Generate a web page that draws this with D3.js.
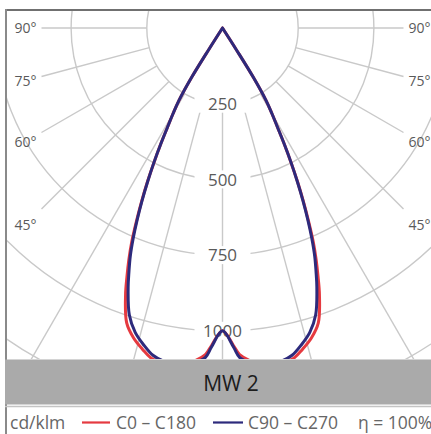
<!DOCTYPE html>
<html>
<head>
<meta charset="utf-8">
<script src="https://cdn.jsdelivr.net/npm/d3@7"></script>
<style>
  html, body { margin: 0; padding: 0; background: #fff; }
  svg { display: block; }
  text { font-family: "Open Sans", "DejaVu Sans", sans-serif; }
</style>
</head>
<body>
<svg id="chart" width="431" height="434"></svg>
<script>
// ---- data ----
const angles = [0, 2, 3, 5, 8, 10, 12, 14, 16, 18, 20, 21, 22, 23, 24, 25, 26, 27, 28, 29, 30, 31, 32, 32.5, 33];
const c0c180 = [1000, 1050, 1080, 1105, 1125, 1122, 1117, 1093, 1065, 1024, 936, 881, 826, 767, 699, 632, 566, 499, 435, 374, 327, 279, 193, 86, 0];
const c90c270 = [1000, 1055, 1090, 1110, 1120, 1117, 1105, 1078, 1046, 996, 911, 862, 813, 755, 692, 628, 563, 499, 435, 374, 327, 279, 193, 86, 0];
const circleTicks = [250, 500, 750, 1000, 1250, 1500];
const circleLabels = ["250", "500", "750", "1000"];
const gridAngles = [0, 15, 30, 45, 60, 75, 90];
const angleLabels = [45, 60, 75, 90];
const seriesNames = ["C0 – C180", "C90 – C270"];
const seriesColors = ["#e53a40", "#2d2a7c"];
const unitLabel = "cd/klm";
const etaLabel = "η = 100%";
const title = "MW 2";

// ---- layout ----
const svg = d3.select("#chart");
const cx = 222.5, cy = 28;
const r = d3.scaleLinear().domain([0, 1000]).range([0, 302.8]);
const ang = d3.scaleLinear().domain([0, 180]).range([0, Math.PI]);

svg.append("rect").attr("width", 431).attr("height", 434).attr("fill", "#fff");

svg.append("clipPath").attr("id", "plotclip")
  .append("rect").attr("x", 6).attr("y", 10).attr("width", 425).attr("height", 349);

const plot = svg.append("g").attr("clip-path", "url(#plotclip)");
const g = plot.append("g").attr("transform", `translate(${cx},${cy})`);

const gridColor = "#c9c9c9";
// circles
g.selectAll("circle.grid").data(circleTicks).join("circle")
  .attr("class", "grid")
  .attr("r", d => r(d))
  .attr("fill", "none")
  .attr("stroke", gridColor)
  .attr("stroke-width", 1.4);

// radial lines (both sides)
const radial = [];
gridAngles.forEach(a => {
  const rad = ang(a);
  const r0 = r(250);
  const r1 = a >= 45 ? 181 / Math.sin(rad) : 700;
  [1, -1].forEach(s => {
    if (a === 0 && s === -1) return;
    radial.push({x1: s * r0 * Math.sin(rad), y1: r0 * Math.cos(rad), x2: s * r1 * Math.sin(rad), y2: r1 * Math.cos(rad)});
  });
});
g.selectAll("line.radial").data(radial).join("line")
  .attr("x1", d => d.x1).attr("y1", d => d.y1)
  .attr("x2", d => d.x2).attr("y2", d => d.y2)
  .attr("stroke", gridColor).attr("stroke-width", 1.4);

// circle labels
const lab = g.selectAll("g.clabel").data(circleLabels).join("g")
  .attr("class", "clabel")
  .attr("transform", d => `translate(0,${r(+d)})`);
lab.append("rect").attr("x", -28).attr("y", -9).attr("width", 56).attr("height", 18).attr("fill", "#fff");
lab.append("text").attr("text-anchor", "middle").attr("dy", "0.36em")
  .attr("font-size", 17).attr("fill", "#5a5a5a").text(d => d);

// curves
function radialPoints(vals) {
  const pts = [];
  for (let i = angles.length - 1; i >= 0; i--) pts.push({a: Math.PI + ang(angles[i]), v: vals[i]});
  for (let i = 1; i < angles.length; i++) pts.push({a: Math.PI - ang(angles[i]), v: vals[i]});
  return pts;
}
const lineGen = d3.lineRadial().angle(d => d.a).radius(d => r(d.v)).curve(d3.curveCatmullRom.alpha(0.5));
[c0c180, c90c270].forEach((vals, i) => {
  g.append("path").attr("d", lineGen(radialPoints(vals)))
    .attr("fill", "none").attr("stroke", seriesColors[i]).attr("stroke-width", 3)
    .attr("stroke-linejoin", "round").attr("stroke-linecap", "round");
});

// angle labels
const lblDx = 197;
[-1, 1].forEach(s => {
  svg.selectAll(null).data(angleLabels).join("text")
    .attr("x", cx + s * lblDx)
    .attr("y", d => cy + lblDx / Math.tan(ang(d)))
    .attr("dy", "0.36em")
    .attr("text-anchor", "middle")
    .attr("font-size", 14).attr("fill", "#5a5a5a")
    .text(d => d + "°");
});

// frame
svg.append("line").attr("x1", 5).attr("x2", 431).attr("y1", 10).attr("y2", 10)
  .attr("stroke", "#707070").attr("stroke-width", 2.2);
svg.append("line").attr("x1", 6).attr("x2", 6).attr("y1", 9).attr("y2", 434)
  .attr("stroke", "#8a8a8a").attr("stroke-width", 2);

// banner
svg.append("rect").attr("x", 5).attr("y", 359.5).attr("width", 426).attr("height", 45).attr("fill", "#aaaaaa");
svg.append("text").attr("x", 231).attr("y", 391).attr("text-anchor", "middle")
  .attr("font-size", 21).attr("fill", "#1c1c1c").text(title);

svg.append("line").attr("x1", 5).attr("x2", 431).attr("y1", 406.5).attr("y2", 406.5)
  .attr("stroke", "#c4c4c4").attr("stroke-width", 1.5);

// legend
const legY = 429;
const legSize = 17.5;
svg.append("text").attr("x", 10).attr("y", legY).attr("font-size", legSize).attr("fill", "#666").text(unitLabel);
const legItems = [
  {x1: 82, x2: 110, tx: 116},
  {x1: 213, x2: 243, tx: 248}
];
legItems.forEach((d, i) => {
  svg.append("line").attr("x1", d.x1).attr("x2", d.x2).attr("y1", 422.5).attr("y2", 422.5)
    .attr("stroke", seriesColors[i]).attr("stroke-width", 2.2);
  svg.append("text").attr("x", d.tx).attr("y", legY).attr("font-size", legSize).attr("fill", "#666").text(seriesNames[i]);
});
svg.append("text").attr("x", 358).attr("y", legY).attr("font-size", legSize).attr("fill", "#666").text(etaLabel);
</script>
</body>
</html>
